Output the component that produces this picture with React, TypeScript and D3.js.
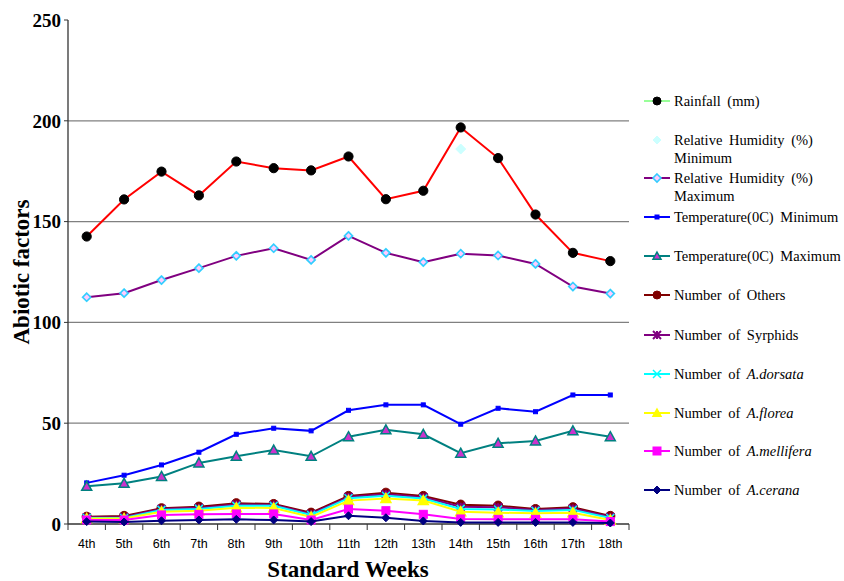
import React from 'react';
import * as d3 from 'd3';

// weeks on the x axis
const weeks = ['4th', '5th', '6th', '7th', '8th', '9th', '10th', '11th', '12th', '13th', '14th', '15th', '16th', '17th', '18th'];

// values
const rainfall = [142.6, 161, 174.8, 163, 179.8, 176.5, 175.4, 182.3, 161.1, 165.3, 196.7, 181.5, 153.5, 134.5, 130.4];
const rhMax = [112.5, 114.5, 121, 126.9, 133, 136.8, 131, 142.9, 134.5, 129.9, 134.1, 133.2, 129, 117.8, 114.3];
const rhMin = [112.5, 114.5, 121, 126.9, 133, 136.8, 131, 142.9, 134.5, 129.9, 186, 133.2, 129, 117.8, 114.3];
const tempMin = [20.4, 24.2, 29.3, 35.6, 44.5, 47.5, 46.2, 56.4, 59.1, 59.1, 49.5, 57.4, 55.7, 64, 64];
const tempMax = [18.7, 20.2, 23.6, 30.3, 33.6, 36.7, 33.6, 43.3, 46.7, 44.5, 35.1, 40, 41.2, 46.2, 43.3];
const others = [3.6, 4, 7.8, 8.6, 10.3, 9.9, 5.6, 13.9, 15.5, 13.9, 9.6, 9.1, 7.4, 8.3, 4];
const syrphids = [3.3, 3.5, 7.4, 8, 9.7, 9.5, 5, 13.4, 14.8, 13.3, 8.6, 8.3, 7, 7.7, 3.5];
const dorsata = [3, 3, 7, 7.5, 9, 9, 4.5, 12.8, 14, 12.6, 7.5, 7.2, 6.5, 7, 3];
const florea = [2.7, 2.7, 6.1, 6.6, 8.1, 7.9, 3.5, 11.6, 12.7, 11.6, 6.1, 5.6, 5.3, 5.6, 2];
const mellifera = [2, 2, 4.5, 4.8, 5, 5, 2, 7.4, 6.6, 4.8, 2.5, 2.3, 2.3, 2.3, 1.2];
const cerana = [1.2, 1, 1.6, 2, 2.3, 2, 1.2, 4.1, 3.1, 1.5, 0.8, 0.8, 0.8, 0.8, 0.5];

const yTicks = [0, 50, 100, 150, 200, 250];

type Marker = 'dot' | 'diamond' | 'openDiamond' | 'square' | 'triangle' | 'star' | 'asterisk' | 'none';

interface Series {
  name: string;
  values: number[];
  line: string | null;
  legendLine: string | null;
  marker: Marker;
  fill: string;
  stroke: string;
  size: number;
}

const series: Series[] = [
  { name: 'rhMin', values: rhMin, line: null, legendLine: null, marker: 'diamond', fill: '#ccffff', stroke: '#ccffff', size: 5 },
  { name: 'rainfall', values: rainfall, line: '#ff0000', legendLine: '#99ff99', marker: 'dot', fill: '#000', stroke: '#000', size: 4.6 },
  { name: 'rhMax', values: rhMax, line: '#800080', legendLine: '#800080', marker: 'openDiamond', fill: '#fff', stroke: '#33ccff', size: 4 },
  { name: 'tempMin', values: tempMin, line: '#0000ff', legendLine: '#0000ff', marker: 'square', fill: '#0000ff', stroke: '#0000ff', size: 2 },
  { name: 'tempMax', values: tempMax, line: '#008080', legendLine: '#008080', marker: 'triangle', fill: '#cc33cc', stroke: '#008080', size: 5 },
  { name: 'others', values: others, line: '#800000', legendLine: '#800000', marker: 'dot', fill: '#800000', stroke: '#800000', size: 4.6 },
  { name: 'syrphids', values: syrphids, line: '#800080', legendLine: '#800080', marker: 'star', fill: '#800080', stroke: '#800080', size: 4 },
  { name: 'dorsata', values: dorsata, line: '#00ffff', legendLine: '#00ffff', marker: 'asterisk', fill: '#00ffff', stroke: '#00ffff', size: 4 },
  { name: 'florea', values: florea, line: '#ffff00', legendLine: '#ffff00', marker: 'triangle', fill: '#ffff00', stroke: '#ffff00', size: 5 },
  { name: 'mellifera', values: mellifera, line: '#ff00ff', legendLine: '#ff00ff', marker: 'square', fill: '#ff00ff', stroke: '#ff00ff', size: 4 },
  { name: 'cerana', values: cerana, line: '#000080', legendLine: '#000080', marker: 'diamond', fill: '#000080', stroke: '#000080', size: 4 },
];

const width = 844;
const height = 581;
const marginLeft = 68;
const plotRight = 629;
const marginTop = 20;
const plotBottom = 524;

const x = d3.scaleBand().domain(weeks).range([marginLeft, plotRight]);
const y = d3.scaleLinear().domain([0, 250]).range([plotBottom, marginTop]);
const cx = (w: string) => (x(w) ?? 0) + x.bandwidth() / 2;

function drawMarker(m: Marker, px: number, py: number, s: Series, key: string) {
  const r = s.size;
  switch (m) {
    case 'dot':
      return <circle key={key} cx={px} cy={py} r={r} fill={s.fill} stroke={s.stroke} />;
    case 'diamond':
      return <path key={key} d={`M${px},${py - r}L${px + r},${py}L${px},${py + r}L${px - r},${py}Z`} fill={s.fill} stroke={s.stroke} />;
    case 'openDiamond':
      return <path key={key} d={`M${px},${py - r}L${px + r},${py}L${px},${py + r}L${px - r},${py}Z`} fill="#ffccff" stroke={s.stroke} strokeWidth={1.6} />;
    case 'square':
      return <rect key={key} x={px - r} y={py - r} width={r * 2} height={r * 2} fill={s.fill} stroke={s.stroke} />;
    case 'triangle':
      return <path key={key} d={`M${px},${py - r}L${px + r},${py + r * 0.8}L${px - r},${py + r * 0.8}Z`} fill={s.fill} stroke={s.stroke} strokeWidth={1.5} />;
    case 'star':
      return <path key={key} d={`M${px - r},${py - r}L${px + r},${py + r}M${px + r},${py - r}L${px - r},${py + r}M${px},${py - r}L${px},${py + r}`} stroke={s.stroke} strokeWidth={2} />;
    case 'asterisk':
      return <path key={key} d={`M${px - r},${py - r}L${px + r},${py + r}M${px + r},${py - r}L${px - r},${py + r}M${px - r},${py}L${px + r},${py}`} stroke={s.stroke} strokeWidth={1.5} />;
    default:
      return null;
  }
}

// legend rows: label pieces [text, italic]
const legendRows: { s: string; y: number; lines: [string, boolean][][] }[] = [
  { s: 'rainfall', y: 101, lines: [[['Rainfall (mm)', false]]] },
  { s: 'rhMin', y: 140, lines: [[['Relative Humidity (%)', false]], [['Minimum', false]]] },
  { s: 'rhMax', y: 178, lines: [[['Relative Humidity (%)', false]], [['Maximum', false]]] },
  { s: 'tempMin', y: 217, lines: [[['Temperature(0C) Minimum', false]]] },
  { s: 'tempMax', y: 256, lines: [[['Temperature(0C) Maximum', false]]] },
  { s: 'others', y: 295, lines: [[['Number of Others', false]]] },
  { s: 'syrphids', y: 335, lines: [[['Number of Syrphids', false]]] },
  { s: 'dorsata', y: 374, lines: [[['Number of ', false], ['A.dorsata', true]]] },
  { s: 'florea', y: 413, lines: [[['Number of ', false], ['A.florea', true]]] },
  { s: 'mellifera', y: 451, lines: [[['Number of ', false], ['A.mellifera', true]]] },
  { s: 'cerana', y: 490, lines: [[['Number of ', false], ['A.cerana', true]]] },
];

const serif = '"Liberation Serif", "Times New Roman", serif';

export default function App() {
  const line = d3.line<number>().x((_, i) => cx(weeks[i])).y(d => y(d));

  return (
    <svg width={width} height={height} style={{ position: 'absolute', left: 0, top: 0, background: '#fff' }}>
      {/* grid */}
      {yTicks.filter(t => t > 0 && t < 250).map(t => (
        <line key={t} x1={marginLeft} x2={plotRight} y1={y(t)} y2={y(t)} stroke="#808080" strokeWidth={1.3} />
      ))}
      {/* y axis */}
      <line x1={marginLeft} x2={marginLeft} y1={marginTop} y2={plotBottom} stroke="#333" strokeWidth={1.3} />
      {yTicks.map(t => (
        <g key={t}>
          <line x1={marginLeft - 4} x2={marginLeft} y1={y(t)} y2={y(t)} stroke="#333" />
          <text x={marginLeft - 7} y={y(t)} dy="0.36em" textAnchor="end" fontFamily={serif} fontWeight="bold" fontSize={19}>{t}</text>
        </g>
      ))}
      {/* x axis */}
      <line x1={marginLeft} x2={plotRight} y1={plotBottom} y2={plotBottom} stroke="#333" strokeWidth={1.3} />
      {weeks.map(w => (
        <line key={'t' + w} x1={x(w)} x2={x(w)} y1={plotBottom} y2={plotBottom + 6} stroke="#333" />
      ))}
      <line x1={plotRight} x2={plotRight} y1={plotBottom} y2={plotBottom + 6} stroke="#333" />
      {weeks.map(w => (
        <text key={'l' + w} x={cx(w)} y={548} textAnchor="middle" fontFamily='"Liberation Sans", Arial, sans-serif' fontSize={12.5}>{w}</text>
      ))}
      {/* titles */}
      <text x={348} y={577} textAnchor="middle" fontFamily={serif} fontWeight="bold" fontSize={23}>Standard Weeks</text>
      <text transform={`translate(29,272) rotate(-90)`} textAnchor="middle" fontFamily={serif} fontWeight="bold" fontSize={23}>Abiotic factors</text>

      {/* series */}
      {series.map(s => (
        <g key={s.name}>
          {s.line && <path d={line(s.values) ?? ''} fill="none" stroke={s.line} strokeWidth={2} />}
          {s.values.map((v, i) => drawMarker(s.marker, cx(weeks[i]), y(v), s, s.name + i))}
        </g>
      ))}

      {/* legend */}
      {legendRows.map(row => {
        const s = series.find(d => d.name === row.s)!;
        return (
          <g key={row.s}>
            {s.legendLine && <line x1={644} x2={670} y1={row.y} y2={row.y} stroke={s.legendLine} strokeWidth={2} />}
            {drawMarker(s.marker, 657, row.y, { ...s, size: Math.min(s.size, 4) }, 'lg' + row.s)}
            {row.lines.map((parts, li) => (
              <text key={li} x={674} y={row.y + li * 18} dy="0.35em" fontFamily={serif} fontSize={14.5} wordSpacing={3}>
                {parts.map(([t, it], pi) => (
                  <tspan key={pi} fontStyle={it ? 'italic' : 'normal'}>{t}</tspan>
                ))}
              </text>
            ))}
          </g>
        );
      })}
    </svg>
  );
}
